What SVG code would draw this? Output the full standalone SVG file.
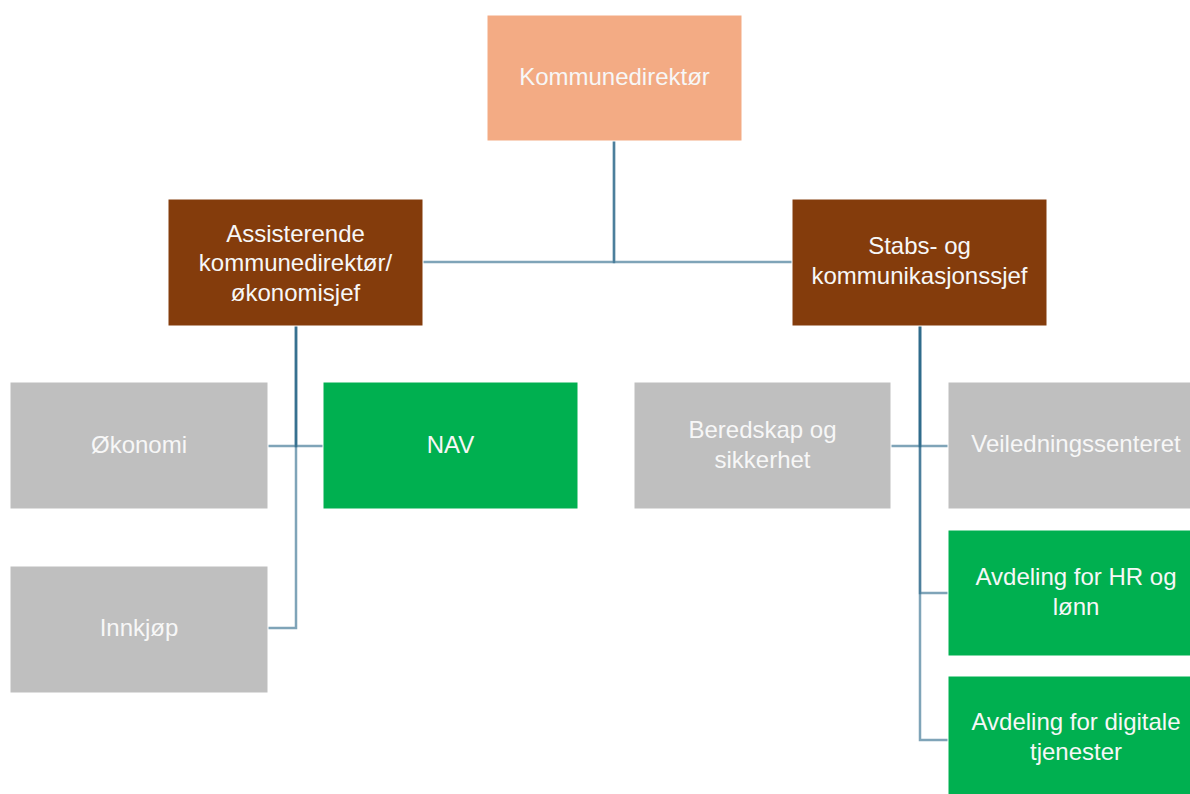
<svg xmlns="http://www.w3.org/2000/svg" width="1190" height="794" viewBox="0 0 1190 794">
<style>
.n{stroke:#ffffff;stroke-width:1}
.orange{fill:#F3AB84}
.brown{fill:#843C0C}
.gray{fill:#BFBFBF}
.green{fill:#00B050}
text{font-family:"Liberation Sans",Arial,sans-serif;font-size:24px;fill:#F7F7F7;text-anchor:middle}
.c{fill:none;stroke:#2A6888;stroke-opacity:0.6;stroke-width:2.5}
</style>
<rect width="1190" height="794" fill="#ffffff"/>
<g id="connectors">
<path class="c" d="M614 140V262H423"/>
<path class="c" d="M614 140V262H792"/>
<path class="c" d="M296 326V446H268"/>
<path class="c" d="M296 326V446H323"/>
<path class="c" d="M296 326V628H268"/>
<path class="c" d="M920 326V446H891"/>
<path class="c" d="M920 326V446H948"/>
<path class="c" d="M920 326V593H948"/>
<path class="c" d="M920 326V740H948"/>
</g>
<g id="kommunedirektor">
<rect class="n orange" x="487" y="15" width="255" height="126"/>
<text x="614.5" y="85">Kommunedirektør</text>
</g>
<g id="assisterende">
<rect class="n brown" x="168" y="199" width="255" height="127"/>
<text x="295.5" y="242">Assisterende</text>
<text x="295.5" y="271">kommunedirektør/</text>
<text x="295.5" y="301">økonomisjef</text>
</g>
<g id="stabs">
<rect class="n brown" x="792" y="199" width="255" height="127"/>
<text x="919.5" y="254">Stabs- og</text>
<text x="919.5" y="284">kommunikasjonssjef</text>
</g>
<g id="okonomi">
<rect class="n gray" x="10" y="382" width="258" height="127"/>
<text x="139" y="453">Økonomi</text>
</g>
<g id="nav">
<rect class="n green" x="323" y="382" width="255" height="127"/>
<text x="450.5" y="453">NAV</text>
</g>
<g id="innkjop">
<rect class="n gray" x="10" y="566" width="258" height="127"/>
<text x="139" y="636">Innkjøp</text>
</g>
<g id="beredskap">
<rect class="n gray" x="634" y="382" width="257" height="127"/>
<text x="762.5" y="438">Beredskap og</text>
<text x="762.5" y="468">sikkerhet</text>
</g>
<g id="veiledning">
<rect class="n gray" x="948" y="382" width="256" height="127"/>
<text x="1076" y="452">Veiledningssenteret</text>
</g>
<g id="hr">
<rect class="n green" x="948" y="530" width="256" height="126"/>
<text x="1076" y="585">Avdeling for HR og</text>
<text x="1076" y="615">lønn</text>
</g>
<g id="digitale">
<rect class="n green" x="948" y="676" width="256" height="130"/>
<text x="1076" y="730">Avdeling for digitale</text>
<text x="1076" y="760">tjenester</text>
</g>
</svg>
